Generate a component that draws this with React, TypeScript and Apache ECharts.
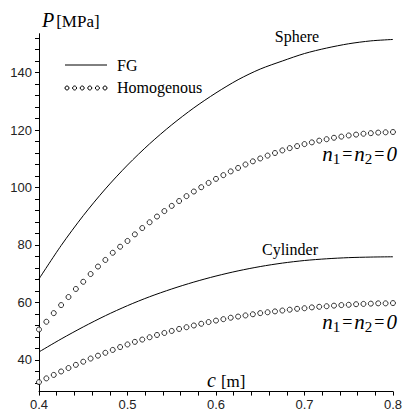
import React, { useEffect, useRef } from "react";
import * as echarts from "echarts";

// FG (solid) curves sampled every 0.025 m
const cFG = [0.4, 0.425, 0.45, 0.475, 0.5, 0.525, 0.55, 0.575, 0.6, 0.625, 0.65, 0.675, 0.7, 0.725, 0.75, 0.775, 0.8];
const sphereFG = [68.2, 79.8, 90.2, 99.5, 107.8, 115.2, 121.8, 127.7, 132.9, 137.5, 141.2, 144.0, 146.6, 148.5, 150.0, 151.0, 151.5];
const cylinderFG = [42.8, 47.3, 51.5, 55.4, 58.9, 62.0, 64.7, 67.1, 69.2, 71.0, 72.5, 73.7, 74.6, 75.2, 75.6, 75.8, 75.9];

// Homogenous (circles) sampled at 49 points from 0.4 to 0.8
const cHom = Array.from({ length: 49 }, (_, i) => 0.4 + i / 120);
const sphereHom = [
  50.6, 53.3, 56.3, 59.1, 61.9, 64.7, 67.2, 69.9, 72.5, 74.8,
  77.3, 79.4, 81.4, 83.7, 85.9, 87.9, 89.9, 91.8, 93.6, 95.3,
  97.0, 98.6, 100.1, 101.6, 103.0, 104.3, 105.6, 106.8, 108.0, 109.1,
  110.1, 111.1, 112.0, 112.9, 113.7, 114.4, 115.1, 115.7, 116.3, 116.8,
  117.3, 117.7, 118.1, 118.4, 118.7, 118.9, 119.1, 119.2, 119.3,
];
const cylinderHom = [
  32.3, 33.6, 34.8, 36.0, 37.2, 38.3, 39.4, 40.5, 41.5, 42.5,
  43.5, 44.5, 45.4, 46.3, 47.1, 47.9, 48.7, 49.4, 50.1, 50.8,
  51.4, 52.0, 52.6, 53.2, 53.7, 54.2, 54.7, 55.1, 55.5, 55.9,
  56.3, 56.6, 56.9, 57.2, 57.5, 57.8, 58.0, 58.3, 58.5, 58.7,
  58.9, 59.1, 59.2, 59.4, 59.5, 59.6, 59.7, 59.7, 59.8,
];

const xLabels = [0.4, 0.5, 0.6, 0.7, 0.8];
const xTicks = Array.from({ length: 21 }, (_, i) => +(0.4 + i * 0.02).toFixed(2));
const yLabels = [40, 60, 80, 100, 120, 140];
const yTicks = Array.from({ length: 31 }, (_, i) => 32 + i * 4);

const serif = "Liberation Serif";
const sans = "Liberation Sans";

export default function App() {
  const ref = useRef<HTMLDivElement>(null);
  useEffect(() => {
    if (!ref.current) return;
    const chart = echarts.init(ref.current, null, { renderer: "svg" });
    const pair = (xs: number[], ys: number[]) => xs.map((x, i) => [x, ys[i]]);
    const legendCircles = [67, 74.6, 82.2, 89.8, 97.4, 105].map((x) => ({
      type: "circle",
      shape: { cx: x, cy: 88, r: 2 },
      style: { fill: "#fff", stroke: "#000", lineWidth: 1 },
    }));
    const nRich = {
      i: { fontFamily: serif, fontStyle: "italic", fontSize: 21, fill: "#000" },
      s: { fontFamily: serif, fontSize: 15, fill: "#000", padding: [9, 0, 0, 0] },
      t: { fontFamily: serif, fontSize: 18, fill: "#000", padding: [0, 2, 0, 2] },
    };
    chart.setOption({
      animation: false,
      backgroundColor: "#fff",
      textStyle: { fontFamily: sans },
      grid: { left: 39, right: 12, top: 33.7, bottom: 20.4 },
      xAxis: {
        type: "value",
        min: 0.4,
        max: 0.8,
        axisLine: { lineStyle: { color: "#000", width: 1 } },
        axisTick: { show: true, length: 4, customValues: xTicks, lineStyle: { color: "#000" } },
        axisLabel: {
          customValues: xLabels,
          formatter: (v: number) => v.toFixed(1),
          fontFamily: sans,
          fontSize: 13,
          color: "#222",
          margin: 6,
        },
        splitLine: { show: false },
      },
      yAxis: {
        type: "value",
        min: 29,
        max: 153.5,
        axisLine: { show: true, lineStyle: { color: "#000", width: 1 } },
        axisTick: { show: true, length: 4, customValues: yTicks, lineStyle: { color: "#000" } },
        axisLabel: {
          customValues: yLabels,
          fontFamily: sans,
          fontSize: 13,
          color: "#222",
          margin: 7,
        },
        splitLine: { show: false },
      },
      series: [
        {
          type: "line",
          data: pair(cFG, sphereFG),
          showSymbol: false,
          smooth: 0.3,
          lineStyle: { color: "#000", width: 1 },
        },
        {
          type: "line",
          data: pair(cFG, cylinderFG),
          showSymbol: false,
          smooth: 0.3,
          lineStyle: { color: "#000", width: 1 },
        },
        {
          type: "scatter",
          data: pair(cHom, sphereHom),
          symbol: "circle",
          symbolSize: 5,
          itemStyle: { color: "#fff", borderColor: "#000", borderWidth: 1 },
        },
        {
          type: "scatter",
          data: pair(cHom, cylinderHom),
          symbol: "circle",
          symbolSize: 5,
          itemStyle: { color: "#fff", borderColor: "#000", borderWidth: 1 },
        },
      ],
      graphic: [
        {
          type: "text",
          left: 42,
          top: 10,
          style: {
            text: "{i|P}{n|[MPa]}",
            rich: {
              i: { fontFamily: serif, fontStyle: "italic", fontSize: 20, fill: "#000" },
              n: { fontFamily: serif, fontSize: 17, fill: "#000", padding: [3, 0, 0, 2] },
            },
          },
        },
        {
          type: "text",
          left: 207,
          top: 370,
          style: {
            text: "{i|c}{n|[m]}",
            rich: {
              i: { fontFamily: serif, fontStyle: "italic", fontSize: 20, fill: "#000" },
              n: { fontFamily: serif, fontSize: 17, fill: "#000", padding: [3, 0, 0, 5] },
            },
          },
        },
        {
          type: "line",
          shape: { x1: 65, y1: 65, x2: 107, y2: 65 },
          style: { stroke: "#000", lineWidth: 1 },
        },
        ...legendCircles,
        {
          type: "text",
          x: 117,
          y: 65,
          style: { text: "FG", fontFamily: serif, fontSize: 16, fill: "#000", verticalAlign: "middle" },
        },
        {
          type: "text",
          x: 117,
          y: 87,
          style: { text: "Homogenous", fontFamily: serif, fontSize: 16, fill: "#000", verticalAlign: "middle" },
        },
        {
          type: "text",
          x: 297,
          y: 36,
          style: { text: "Sphere", fontFamily: serif, fontSize: 16, fill: "#000", align: "center", verticalAlign: "middle" },
        },
        {
          type: "text",
          x: 290,
          y: 249,
          style: { text: "Cylinder", fontFamily: serif, fontSize: 16, fill: "#000", align: "center", verticalAlign: "middle" },
        },
        {
          type: "text",
          x: 397,
          y: 154,
          style: {
            text: "{i|n}{s|1}{t|=}{i|n}{s|2}{t|=}{i|0}",
            rich: nRich,
            align: "right",
            verticalAlign: "middle",
          },
        },
        {
          type: "text",
          x: 397,
          y: 322,
          style: {
            text: "{i|n}{s|1}{t|=}{i|n}{s|2}{t|=}{i|0}",
            rich: nRich,
            align: "right",
            verticalAlign: "middle",
          },
        },
      ],
    });
    return () => chart.dispose();
  }, []);
  return (
    <div
      ref={ref}
      style={{ position: "fixed", left: 0, top: 0, width: 405, height: 412, background: "#fff" }}
    />
  );
}
